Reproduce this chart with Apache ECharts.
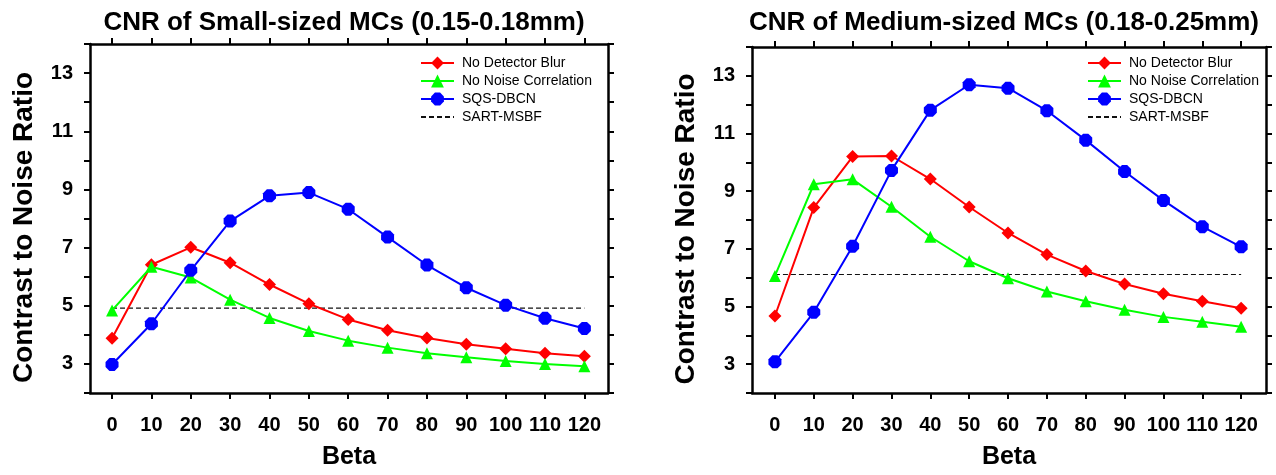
<!DOCTYPE html>
<html>
<head>
<meta charset="utf-8">
<script src="https://cdn.jsdelivr.net/npm/echarts@6/dist/echarts.min.js"></script>
<style>
  html, body { margin: 0; padding: 0; background: #fff; }
  #container { width: 1276px; height: 475px; }
</style>
</head>
<body>
<div id="container"></div>
<script>
// x 轴: Beta
var betaValues = [0, 10, 20, 30, 40, 50, 60, 70, 80, 90, 100, 110, 120];

// 小尺寸 MCs
var smallNoBlur = [3.88, 6.41, 7.01, 6.48, 5.73, 5.07, 4.53, 4.16, 3.89, 3.68, 3.52, 3.37, 3.26];
var smallNoCorr = [4.84, 6.34, 5.97, 5.21, 4.58, 4.13, 3.80, 3.56, 3.37, 3.23, 3.10, 3.00, 2.92];
var smallSqs = [2.98, 4.38, 6.22, 7.91, 8.78, 8.89, 8.32, 7.36, 6.40, 5.62, 5.02, 4.57, 4.22];
var smallSart = 4.92;

// 中尺寸 MCs
var mediumNoBlur = [4.67, 8.43, 10.20, 10.22, 9.42, 8.45, 7.55, 6.80, 6.23, 5.78, 5.44, 5.18, 4.94];
var mediumNoCorr = [6.06, 9.24, 9.41, 8.46, 7.42, 6.57, 5.98, 5.52, 5.18, 4.89, 4.64, 4.47, 4.30];
var mediumSqs = [3.08, 4.80, 7.09, 9.72, 11.81, 12.69, 12.57, 11.79, 10.77, 9.68, 8.68, 7.77, 7.07];
var mediumSart = 6.11;

var seriesNames = ["No Detector Blur", "No Noise Correlation", "SQS-DBCN", "SART-MSBF"];
var titles = ["CNR of Small-sized MCs (0.15-0.18mm)", "CNR of Medium-sized MCs (0.18-0.25mm)"];

var FONT = "'Liberation Sans', Arial, sans-serif";
var hexPath = "path://M3,0 L7,0 L10,3 L10,7 L7,10 L3,10 L0,7 L0,3 Z";

function pairs(ys) {
    return betaValues.map(function(b, i) { return [b, ys[i]]; });
}

function xAxes(grid, min, max) {
    var line = { onZero: false, lineStyle: { color: "#000", width: 2.5 } };
    var tick = { customValues: betaValues, length: 6, lineStyle: { color: "#000", width: 2 } };
    return [{
        gridIndex: grid, type: "value", position: "bottom", min: min, max: max,
        axisLine: line, axisTick: tick, splitLine: { show: false },
        axisLabel: { customValues: betaValues, color: "#000", fontSize: 20, fontWeight: "bold", fontFamily: FONT, margin: 22 },
        name: "Beta", nameLocation: "middle", nameGap: 52,
        nameTextStyle: { color: "#000", fontSize: 25, fontWeight: "bold", fontFamily: FONT }
    }, {
        gridIndex: grid, type: "value", position: "top", min: min, max: max,
        axisLine: line, axisTick: tick, splitLine: { show: false },
        axisLabel: { show: false }
    }];
}

function yAxes(grid) {
    var line = { show: true, onZero: false, lineStyle: { color: "#000", width: 2.5 } };
    var tick = { show: true, length: 6, lineStyle: { color: "#000", width: 2 } };
    return [{
        gridIndex: grid, type: "value", position: "left", min: 2, max: 14, interval: 1,
        axisLine: line, axisTick: tick, splitLine: { show: false },
        axisLabel: {
            color: "#000", fontSize: 20, fontWeight: "bold", fontFamily: FONT, margin: 17,
            formatter: function(v) { return v % 2 === 1 ? String(v) : ""; }
        },
        name: "Contrast to Noise Ratio", nameLocation: "middle", nameGap: 52,
        nameTextStyle: { color: "#000", fontSize: 28, fontWeight: "bold", fontFamily: FONT, padding: [0, 18, 0, 0] }
    }, {
        gridIndex: grid, type: "value", position: "right", min: 2, max: 14, interval: 1,
        axisLine: line, axisTick: tick, splitLine: { show: false }, axisLabel: { show: false }
    }];
}

function panelSeries(axisIdx, noBlur, noCorr, sqs, sart) {
    var base = { type: "line", xAxisIndex: axisIdx, yAxisIndex: axisIdx, animation: false };
    return [
        // 虚线先画, 放在最下面
        Object.assign({}, base, {
            name: seriesNames[3], data: [[betaValues[0], sart], [betaValues[betaValues.length - 1], sart]],
            symbol: "none", lineStyle: { color: "#111", width: 1.2, type: [5, 3] }, itemStyle: { color: "#111" }
        }),
        Object.assign({}, base, {
            name: seriesNames[0], data: pairs(noBlur), symbol: "diamond", symbolSize: 13,
            lineStyle: { color: "#ff0000", width: 2 }, itemStyle: { color: "#ff0000" }
        }),
        Object.assign({}, base, {
            name: seriesNames[1], data: pairs(noCorr), symbol: "triangle", symbolSize: 12,
            lineStyle: { color: "#00ff00", width: 2 }, itemStyle: { color: "#00ff00" }
        }),
        Object.assign({}, base, {
            name: seriesNames[2], data: pairs(sqs), symbol: hexPath, symbolSize: 13,
            lineStyle: { color: "#0000ff", width: 2 }, itemStyle: { color: "#0000ff" }
        })
    ];
}

function legendAt(left) {
    return {
        data: [
            { name: seriesNames[0] },
            { name: seriesNames[1] },
            { name: seriesNames[2] },
            { name: seriesNames[3], itemStyle: { opacity: 0 } }
        ],
        orient: "vertical", left: left, top: 50,
        itemWidth: 33, itemHeight: 16, itemGap: 2,
        textStyle: { color: "#000", fontSize: 14, lineHeight: 16, fontFamily: FONT, padding: [0, 0, 0, 3] }
    };
}

window.onload = function() {
    var myChart = echarts.init(document.getElementById("container"));
    myChart.setOption({
        backgroundColor: "#fff",
        animation: false,
        title: [
            { text: titles[0], left: 339, top: 5, textAlign: "center",
              textStyle: { color: "#000", fontSize: 26, fontWeight: "bold", fontFamily: FONT } },
            { text: titles[1], left: 999, top: 5, textAlign: "center",
              textStyle: { color: "#000", fontSize: 26, fontWeight: "bold", fontFamily: FONT } }
        ],
        legend: [legendAt(415), legendAt(1082)],
        grid: [
            { left: 90, top: 44, width: 518, height: 354 },
            { left: 752, top: 47, width: 514, height: 352 }
        ],
        xAxis: xAxes(0, -5.6, 126).concat(xAxes(1, -5.9, 126.4)),
        yAxis: yAxes(0).concat(yAxes(1)),
        series: panelSeries(0, smallNoBlur, smallNoCorr, smallSqs, smallSart)
            .concat(panelSeries(2, mediumNoBlur, mediumNoCorr, mediumSqs, mediumSart))
    });
};
</script>
</body>
</html>
